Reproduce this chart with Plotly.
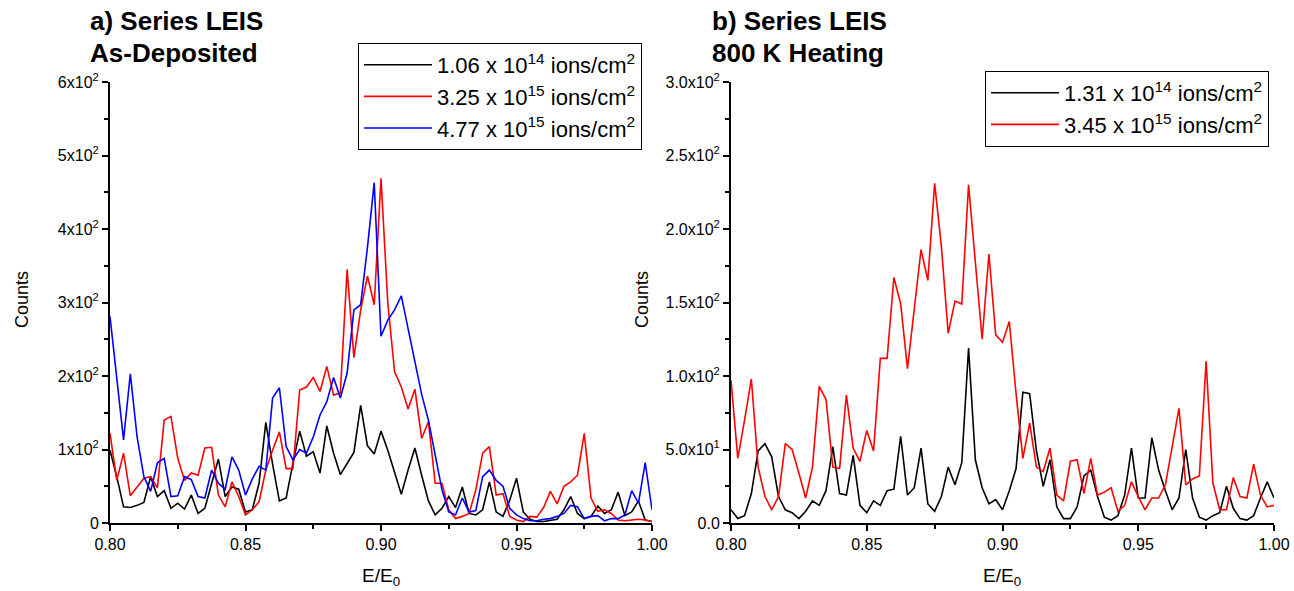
import plotly.graph_objects as go

W, H = 1294, 591

# Energy ratio grid (E/E0), one sample every 0.0025
e_ratio = [round(0.80 + 0.0025 * k, 4) for k in range(81)]

# a) Series LEIS, as-deposited
dep_106e14 = [99, 63, 22, 21, 24, 28, 63, 36, 44, 20, 27, 19, 38, 13, 20, 54, 87, 36, 49, 46,
              15, 18, 54, 137, 80, 30, 34, 81, 125, 91, 97, 68, 132, 95, 66, 81, 96, 160, 105, 94,
              125, 99, 68, 39, 72, 102, 65, 30, 11, 20, 36, 21, 49, 13, 11, 18, 56, 15, 9, 31,
              61, 15, 5, 2, 2, 4, 5, 18, 36, 13, 6, 9, 23, 13, 18, 42, 10, 15, 30, 4, 2]
dep_325e15 = [122, 58, 95, 37, 49, 61, 63, 48, 140, 145, 88, 58, 68, 65, 102, 103, 38, 22, 56, 36,
              11, 18, 29, 72, 99, 124, 74, 74, 181, 185, 198, 179, 213, 174, 177, 345, 225, 290, 336, 297,
              469, 300, 206, 185, 155, 182, 115, 138, 54, 54, 18, 6, 9, 13, 45, 95, 104, 38, 40, 9,
              4, 2, 9, 8, 21, 43, 26, 50, 56, 65, 122, 34, 16, 18, 13, 4, 3, 4, 5, 4, 2]
dep_477e15 = [281, 195, 113, 203, 117, 63, 43, 82, 88, 36, 37, 63, 59, 36, 34, 72, 54, 46, 90, 72,
              38, 60, 77, 72, 170, 184, 104, 86, 100, 95, 117, 147, 165, 198, 170, 204, 290, 297, 375, 463,
              254, 276, 290, 309, 263, 217, 175, 140, 90, 45, 15, 11, 34, 15, 17, 63, 72, 58, 50, 20,
              11, 6, 3, 3, 5, 6, 9, 13, 24, 22, 6, 9, 10, 3, 6, 6, 11, 44, 27, 82, 18]

# b) Series LEIS, after 800 K heating
heat_131e14 = [9, 3, 5, 20, 49, 54, 45, 18, 9, 7, 3, 8, 15, 12, 22, 52, 20, 19, 46, 12,
               7, 15, 12, 22, 23, 59, 19, 24, 51, 13, 8, 18, 38, 26, 41, 119, 43, 24, 13, 16,
               9, 22, 37, 89, 88, 49, 25, 43, 11, 3, 3, 11, 32, 36, 18, 4, 2, 5, 19, 51,
               17, 17, 58, 36, 22, 9, 17, 50, 17, 4, 2, 5, 7, 25, 10, 3, 2, 5, 17, 28, 17]
heat_345e15 = [97, 44, 70, 98, 38, 18, 9, 18, 54, 50, 34, 17, 38, 93, 84, 38, 37, 87, 51, 42,
               63, 49, 112, 112, 167, 149, 105, 145, 186, 165, 231, 188, 129, 151, 149, 230, 179, 125, 183, 128,
               123, 137, 88, 44, 68, 38, 35, 51, 19, 15, 42, 43, 20, 44, 19, 21, 24, 8, 12, 28,
               18, 9, 17, 17, 26, 52, 78, 26, 30, 32, 110, 27, 9, 9, 31, 18, 17, 40, 19, 11, 12]

left_ticktext = ["0"] + ["%dx10<sup>2</sup>" % k for k in range(1, 7)]
left_tickvals = [0, 100, 200, 300, 400, 500, 600]
right_ticktext = ["0.0", "5.0x10<sup>1</sup>", "1.0x10<sup>2</sup>", "1.5x10<sup>2</sup>",
                  "2.0x10<sup>2</sup>", "2.5x10<sup>2</sup>", "3.0x10<sup>2</sup>"]
right_tickvals = [0, 50, 100, 150, 200, 250, 300]

FONT = "Liberation Sans, Arial, sans-serif"
BLACK, RED, BLUE = "#000000", "#ff0000", "#0000ff"

# plot-area pixel boxes
LEFT_X = (110, 652)
RIGHT_X = (731, 1274)
TOP_Y, BOTTOM_Y = 82, 523


def fx(p):
    return p / W


def fy(p):
    return 1 - p / H


fig = go.Figure()

series_a = [
    (dep_106e14, BLACK, "1.06 x 10<sup>14</sup> ions/cm<sup>2</sup>"),
    (dep_325e15, RED, "3.25 x 10<sup>15</sup> ions/cm<sup>2</sup>"),
    (dep_477e15, BLUE, "4.77 x 10<sup>15</sup> ions/cm<sup>2</sup>"),
]
for vals, col, name in series_a:
    fig.add_trace(go.Scatter(x=e_ratio, y=vals, mode="lines", name=name,
                             line=dict(color=col, width=1.6),
                             xaxis="x", yaxis="y", legend="legend"))

series_b = [
    (heat_131e14, BLACK, "1.31 x 10<sup>14</sup> ions/cm<sup>2</sup>"),
    (heat_345e15, RED, "3.45 x 10<sup>15</sup> ions/cm<sup>2</sup>"),
]
for vals, col, name in series_b:
    fig.add_trace(go.Scatter(x=e_ratio, y=vals, mode="lines", name=name,
                             line=dict(color=col, width=1.6),
                             xaxis="x2", yaxis="y2", legend="legend2"))

axis_style = dict(showline=True, linecolor="black", linewidth=2, mirror=False,
                  ticks="outside", ticklen=6, tickwidth=2, tickcolor="black",
                  showgrid=False, zeroline=False,
                  tickfont=dict(family=FONT, size=16, color="black"))

xcommon = dict(axis_style, range=[0.80, 1.00], tickmode="array",
               tickvals=[0.80, 0.85, 0.90, 0.95, 1.00],
               ticktext=["0.80", "0.85", "0.90", "0.95", "1.00"],
               minor=dict(ticks="outside", ticklen=4, tickwidth=1.5, tickcolor="black",
                          tickmode="array", tickvals=[0.825, 0.875, 0.925, 0.975]))

legend_style = dict(xanchor="left", yanchor="top", bgcolor="white",
                    bordercolor="black", borderwidth=1, itemwidth=68,
                    font=dict(family=FONT, size=22, color="black"))

fig.update_layout(
    width=W, height=H, template="none",
    paper_bgcolor="white", plot_bgcolor="white",
    margin=dict(l=0, r=0, t=0, b=0),
    xaxis=dict(xcommon, domain=[fx(LEFT_X[0]), fx(LEFT_X[1])], anchor="y"),
    yaxis=dict(axis_style, domain=[fy(BOTTOM_Y), fy(TOP_Y)], anchor="x",
               range=[0, 600], tickmode="array", tickvals=left_tickvals, ticktext=left_ticktext,
               minor=dict(ticks="outside", ticklen=4, tickwidth=1.5, tickcolor="black",
                          tickmode="array", tickvals=[50, 150, 250, 350, 450, 550])),
    xaxis2=dict(xcommon, domain=[fx(RIGHT_X[0]), fx(RIGHT_X[1])], anchor="y2"),
    yaxis2=dict(axis_style, domain=[fy(BOTTOM_Y), fy(TOP_Y)], anchor="x2",
                range=[0, 300], tickmode="array", tickvals=right_tickvals, ticktext=right_ticktext,
                minor=dict(ticks="outside", ticklen=4, tickwidth=1.5, tickcolor="black",
                           tickmode="array", tickvals=[25, 75, 125, 175, 225, 275])),
    legend=dict(legend_style, x=fx(358), y=fy(43)),
    legend2=dict(legend_style, x=fx(985), y=fy(71)),
    showlegend=True,
)

annots = [
    # panel titles
    dict(text="<b>a) Series LEIS</b>", x=fx(88), y=fy(21)),
    dict(text="<b>As-Deposited</b>", x=fx(88), y=fy(53)),
    dict(text="<b>b) Series LEIS</b>", x=fx(710), y=fy(21)),
    dict(text="<b>800 K Heating</b>", x=fx(710), y=fy(53)),
]
for a in annots:
    fig.add_annotation(xref="paper", yref="paper", xanchor="left", yanchor="middle",
                       showarrow=False, font=dict(family=FONT, size=26, color="black"), **a)

# axis titles
for xc in (381, 1002):
    fig.add_annotation(text="E/E<sub>0</sub>", xref="paper", yref="paper",
                       x=fx(xc), y=fy(577), xanchor="center", yanchor="middle",
                       showarrow=False, font=dict(family=FONT, size=19, color="black"))
for xc in (22, 642):
    fig.add_annotation(text="Counts", xref="paper", yref="paper", textangle=-90,
                       x=fx(xc), y=fy(300), xanchor="center", yanchor="middle",
                       showarrow=False, font=dict(family=FONT, size=18, color="black"))

fig.write_html("out.html")
